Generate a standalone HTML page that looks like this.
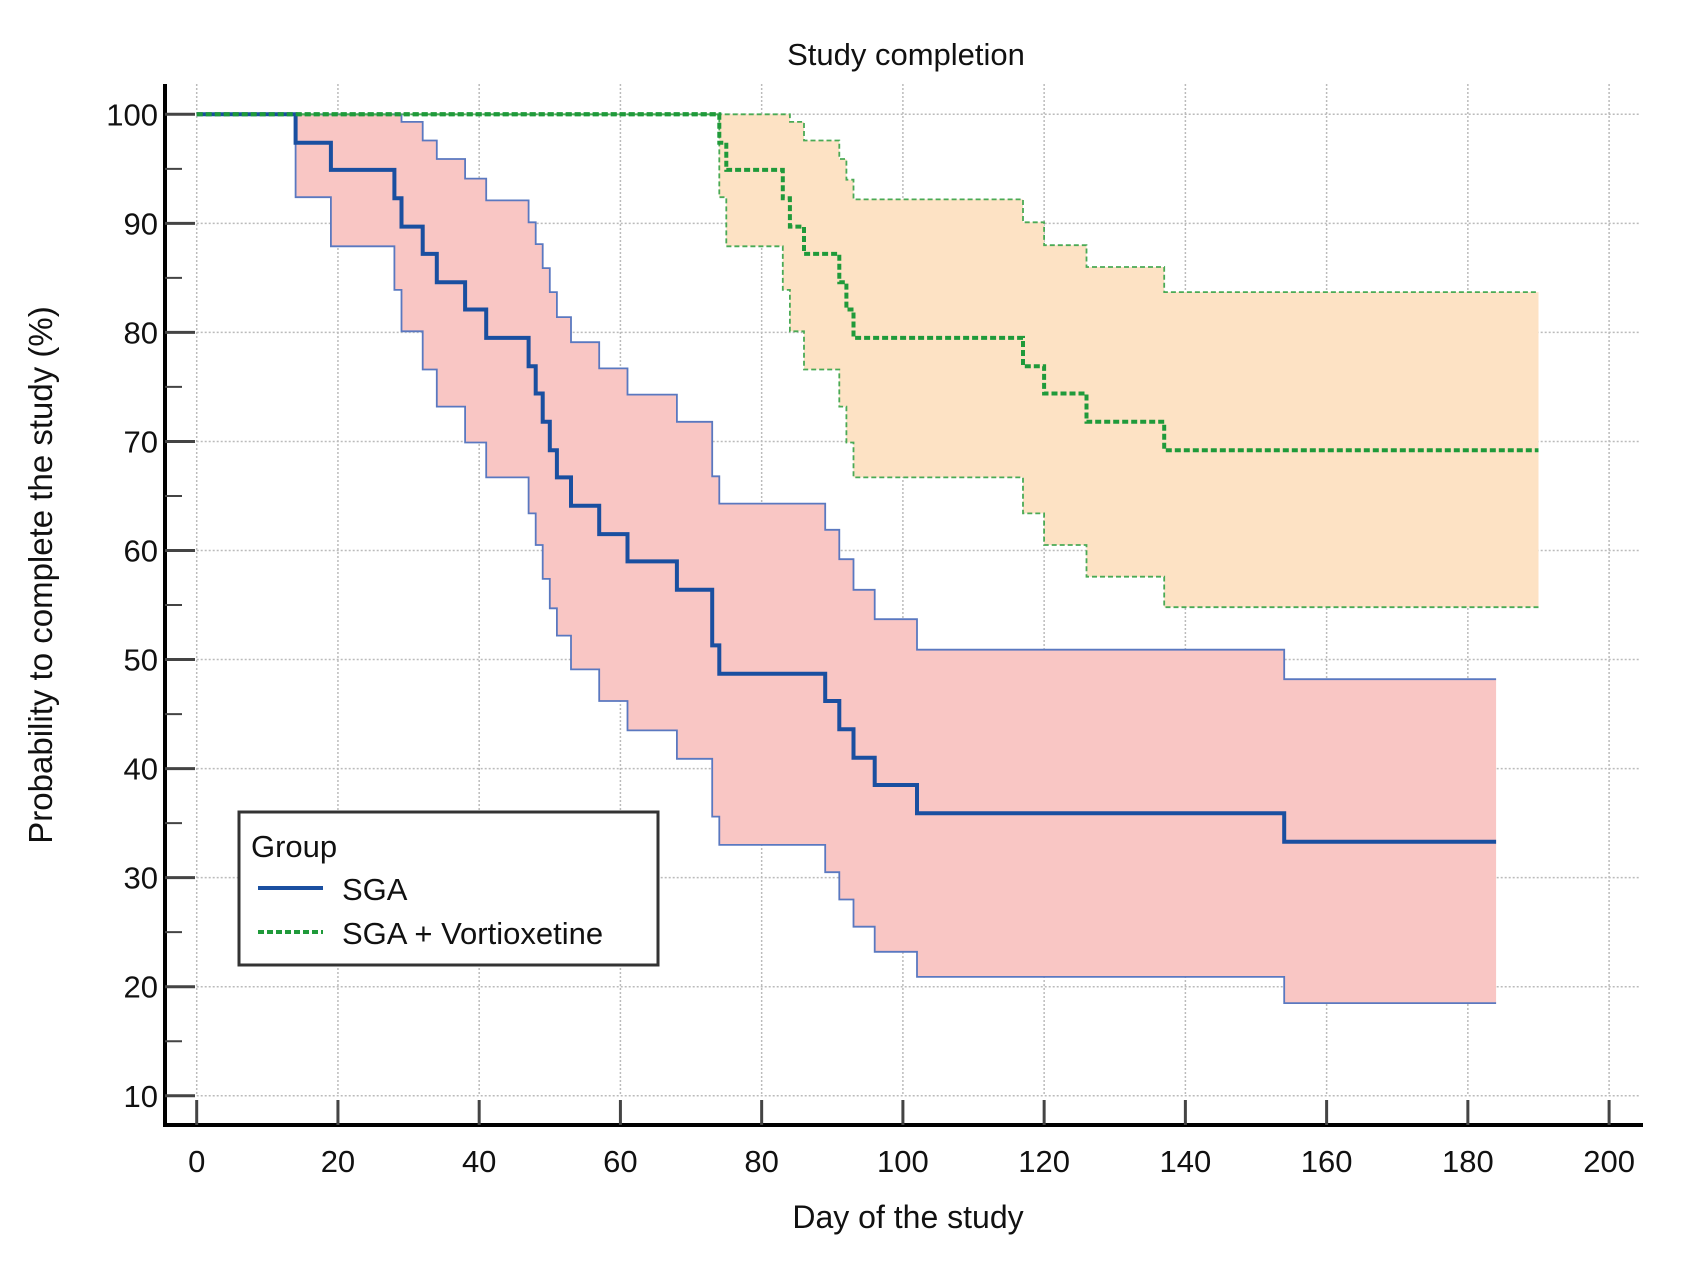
<!DOCTYPE html>
<html><head><meta charset="utf-8"><style>
html,body{margin:0;padding:0;background:#fff;}
svg text{font-family:"Liberation Sans",Arial,sans-serif;fill:#111;}
</style></head><body>
<svg id="chart" width="1691" height="1269" viewBox="0 0 1691 1269" xmlns="http://www.w3.org/2000/svg">
<text x="906" y="65" font-size="31" text-anchor="middle">Study completion</text>
<g id="grid"></g>
<g id="bands"></g>
<g id="lines"></g>
<g id="axes"></g>
<text x="908" y="1228" font-size="32" text-anchor="middle">Day of the study</text>
<text transform="translate(52,575) rotate(-90)" font-size="33" text-anchor="middle">Probability to complete the study (%)</text>
<g>
<rect x="239" y="812" width="419" height="153" fill="#fff" stroke="#333" stroke-width="3"/>
<text x="251" y="857" font-size="31">Group</text>
<line x1="258" y1="888" x2="323" y2="888" stroke="#1a4fa0" stroke-width="4"/>
<text x="342" y="900" font-size="31">SGA</text>
<line x1="258" y1="932" x2="323" y2="932" stroke="#1f9a3a" stroke-width="4" stroke-dasharray="6,3"/>
<text x="342" y="944" font-size="31">SGA + Vortioxetine</text>
</g>
</svg>
<script>
const xTicks=[0,20,40,60,80,100,120,140,160,180,200];
const yTicks=[10,20,30,40,50,60,70,80,90,100];
const sgaDays=[0,14,19,28,29,32,34,38,41,47,48,49,50,51,53,57,61,68,73,74,89,91,93,96,102,154];
const sgaSurv=[100,97.4,94.9,92.3,89.7,87.2,84.6,82.1,79.5,76.9,74.4,71.8,69.2,66.7,64.1,61.5,59.0,56.4,51.3,48.7,46.2,43.6,41.0,38.5,35.9,33.3];
const sgaUpper=[100,100,100,100,99.3,97.6,95.9,94.1,92.1,90.1,88.1,85.9,83.7,81.4,79.1,76.7,74.3,71.8,66.8,64.3,61.9,59.2,56.4,53.7,50.9,48.2];
const sgaLower=[100,92.4,87.9,83.9,80.1,76.6,73.2,69.9,66.7,63.4,60.5,57.4,54.7,52.2,49.1,46.2,43.5,40.9,35.6,33.0,30.5,28.0,25.5,23.2,20.9,18.5];
const sgaEnd=184;
const vorDays=[0,74,75,83,84,86,91,92,93,117,120,126,137];
const vorSurv=[100,97.4,94.9,92.3,89.7,87.2,84.6,82.1,79.5,76.9,74.4,71.8,69.2];
const vorUpper=[100,100,100,100,99.3,97.6,95.9,94.0,92.2,90.1,88.0,86.0,83.7];
const vorLower=[100,92.4,87.9,83.9,80.1,76.6,73.2,69.9,66.7,63.4,60.5,57.6,54.8];
const vorEnd=190;

const NS='http://www.w3.org/2000/svg';
const X=d=>196.7+d*7.062;
const Y=v=>114.3+(100-v)*10.905;
function mk(tag,attrs,parent){const e=document.createElementNS(NS,tag);for(const k in attrs)e.setAttribute(k,attrs[k]);parent.appendChild(e);return e;}
function stepPts(days,vals,end){let p=[];for(let i=0;i<days.length;i++){const xn=i+1<days.length?days[i+1]:end;p.push([X(days[i]),Y(vals[i])]);p.push([X(xn),Y(vals[i])]);}return p;}
function pstr(p){return p.map(q=>q[0].toFixed(1)+','+q[1].toFixed(1)).join(' ');}

const grid=document.getElementById('grid');
xTicks.forEach(t=>{
 const l=mk('line',{x1:X(t),x2:X(t),y1:84,y2:Y(10),stroke:'#bbb','stroke-width':1.5,'stroke-dasharray':'2,2'},grid);
 
 
});
yTicks.forEach(t=>{
 const l=mk('line',{x1:X(0),x2:1640,y1:Y(t),y2:Y(t),stroke:'#bbb','stroke-width':1.5,'stroke-dasharray':'2,2'},grid);
 
 
});

const bands=document.getElementById('bands');
function band(days,up,lo,end,fill,stroke,dash,name){
 const u=stepPts(days,up,end),l=stepPts(days,lo,end).reverse();
 const poly=mk('polygon',{points:pstr(u.concat(l)),fill:fill,stroke:'none'},bands);
 
 
 [u,l].forEach((p,i)=>{const a={points:pstr(p),fill:'none',stroke:stroke,'stroke-width':1.8};if(dash)a['stroke-dasharray']=dash;const e=mk('polyline',a,bands);
 
 });
}
band(sgaDays,sgaUpper,sgaLower,sgaEnd,'#f9c6c4','#5a78c0',null,'sga');
band(vorDays,vorUpper,vorLower,vorEnd,'#fde2c4','#4aaa55','5,3','vort');

const lines=document.getElementById('lines');
const l1=mk('polyline',{points:pstr(stepPts(vorDays,vorSurv,vorEnd)),fill:'none',stroke:'#1f9a3a','stroke-width':4,'stroke-dasharray':'6,3'},lines);


const l2=mk('polyline',{points:pstr(stepPts(sgaDays,sgaSurv,sgaEnd)),fill:'none',stroke:'#1a4fa0','stroke-width':4},lines);


const l3=mk('polyline',{points:pstr([[X(0),Y(100)],[X(74),Y(100)]]),fill:'none',stroke:'#1f9a3a','stroke-width':4,'stroke-dasharray':'6,3'},lines);



const axes=document.getElementById('axes');
const ys=mk('line',{x1:165,x2:165,y1:84,y2:1127,stroke:'#000','stroke-width':4},axes);


const xs=mk('line',{x1:163,x2:1643,y1:1125,y2:1125,stroke:'#000','stroke-width':4},axes);


yTicks.forEach(t=>{
 const tk=mk('line',{x1:165,x2:195,y1:Y(t),y2:Y(t),stroke:'#444','stroke-width':3},axes);
 
 
 if(t>10){
 const mt=mk('line',{x1:165,x2:182,y1:Y(t-5),y2:Y(t-5),stroke:'#444','stroke-width':2},axes);
 
 
 }
 const tx=mk('text',{x:158,y:Y(t)+11,'font-size':31,'text-anchor':'end'},axes);
 tx.textContent=t;
 
 
});
xTicks.forEach(t=>{
 const tk=mk('line',{x1:X(t),x2:X(t),y1:1100,y2:1125,stroke:'#444','stroke-width':3},axes);
 
 
 const tx=mk('text',{x:X(t),y:1172,'font-size':31,'text-anchor':'middle'},axes);
 tx.textContent=t;
 
 
});
</script>
</body></html>
